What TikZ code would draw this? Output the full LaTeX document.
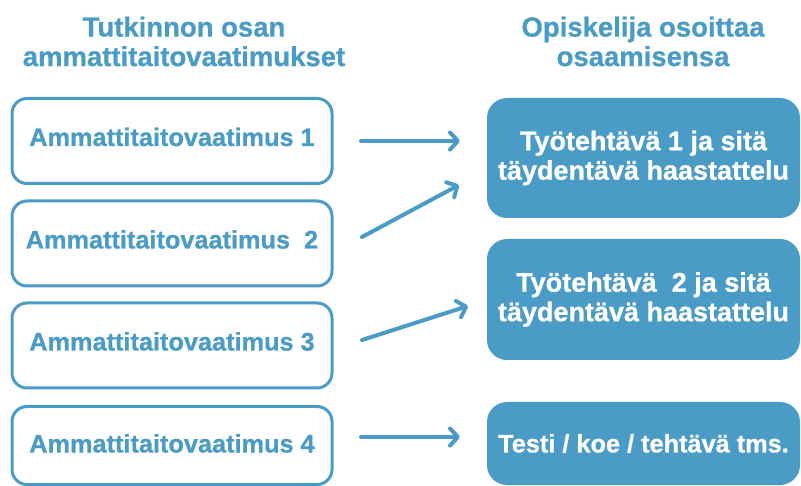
\documentclass[tikz,border=0pt]{standalone}
\usepackage{fontspec}
\setmainfont{Liberation Sans}[BoldFeatures={FakeBold=0.8}]
\usetikzlibrary{arrows.meta}
\definecolor{kblue}{RGB}{74,155,198}
\tikzset{
  titletext/.style={text=kblue, font=\bfseries\fontsize{27.5}{29.5}\selectfont, align=center},
  reqbox/.style={draw=kblue, line width=3pt, rounded corners=15pt, fill=white,
    minimum width=320pt, minimum height=85pt, text=kblue,
    font=\bfseries\fontsize{25.3}{28}\selectfont, text height=18pt, text depth=8pt},
  showbox/.style={fill=kblue, rounded corners=20pt, text=white, align=center,
    minimum width=313pt, font=\bfseries\fontsize{27}{29.5}\selectfont},
  conn/.style={draw=kblue, line width=4pt, line cap=round,
    -{Straight Barb[length=8pt,width=17pt,line cap=round,line join=round]}}
}
\begin{document}
\begin{tikzpicture}[x=1pt,y=-1pt]
\useasboundingbox (0,0) rectangle (801,486);
\node[titletext] (tl) at (184,41.5) {Tutkinnon osan\\ammattitaitovaatimukset};
\node[titletext] (tr) at (643,41.5) {Opiskelija osoittaa\\osaamisensa};

\node[reqbox] (a1) at (172,141) {Ammattitaitovaatimus 1};
\node[reqbox] (a2) at (172,243.5) {Ammattitaitovaatimus~ 2};
\node[reqbox] (a3) at (172,345.5) {Ammattitaitovaatimus 3};
\node[reqbox, minimum height=78pt, text depth=4pt] (a4) at (172,445.5) {Ammattitaitovaatimus 4};

\node[showbox, minimum height=120pt] (b1) at (643.5,158) {Työtehtävä 1 ja sitä\\täydentävä haastattelu};
\node[showbox, minimum height=121pt] (b2) at (643.5,299.5) {Työtehtävä~ 2 ja sitä\\täydentävä haastattelu};
\node[showbox, minimum height=83pt, font=\bfseries\fontsize{25.3}{28}\selectfont] (b3) at (643.5,443.5) {Testi / koe / tehtävä tms.};

\coordinate (s1) at (361,141);
\coordinate (e1) at (460,141);
\coordinate (s2) at (362,237);
\coordinate (e2) at (459,185);
\coordinate (s3) at (362,340);
\coordinate (e3) at (468,306);
\coordinate (s4) at (361,437);
\coordinate (e4) at (460,437);
\draw[conn] (s1) -- (e1);
\draw[conn] (s2) -- (e2);
\draw[conn] (s3) -- (e3);
\draw[conn] (s4) -- (e4);
\end{tikzpicture}
\end{document}
